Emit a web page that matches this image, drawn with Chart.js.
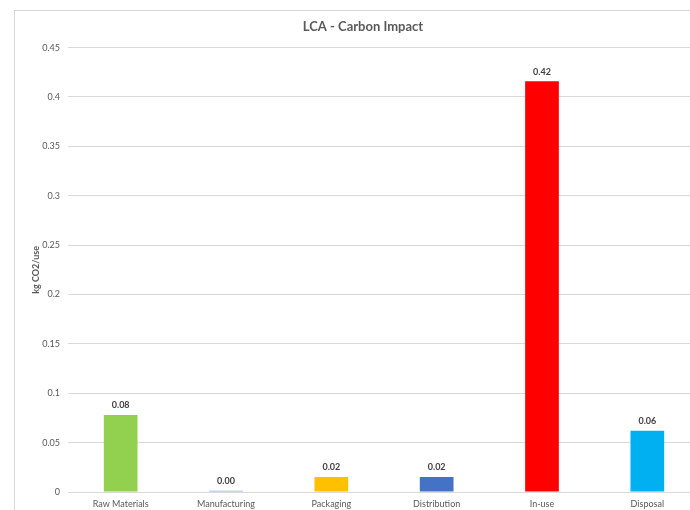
<!DOCTYPE html>
<html>
<head>
<meta charset="utf-8">
<script src="https://cdn.jsdelivr.net/npm/chart.js@4"></script>
<style>
  html, body { margin: 0; padding: 0; background: #fff; overflow: hidden; }
  #wrap { position: relative; width: 690px; height: 510px; overflow: hidden; }
  #frame { position: absolute; left: 14px; top: 10px; width: 720px; height: 540px; border: 1px solid #d9d9d9; pointer-events: none; }
  canvas { position: absolute; left: 0; top: 0; }
</style>
</head>
<body>
<div id="wrap">
  <canvas id="lcaChart" width="720" height="511"></canvas>
  <div id="frame"></div>
</div>
<script>
// Life cycle stages and their carbon impact (kg CO2 per use)
const stages = ['Raw Materials', 'Manufacturing', 'Packaging', 'Distribution', 'In-use', 'Disposal'];
const impact = [0.078, 0.0012, 0.0152, 0.0152, 0.416, 0.062];
const barColors = ['#92D050', '#8FAADC', '#FFC000', '#4472C4', '#FF0000', '#00B0F0'];
const yMax = 0.45;
const yStep = 0.05;

const textColor = '#595959';
const fontFamily = 'Lato, "Open Sans", sans-serif';

// Small inline plugin to print the value above each bar
const valueLabels = {
    id: 'valueLabels',
    afterDatasetsDraw(chart) {
        const ctx = chart.ctx;
        const meta = chart.getDatasetMeta(0);
        ctx.save();
        ctx.font = 'bold 9px ' + fontFamily;
        ctx.fillStyle = '#404040';
        ctx.textAlign = 'center';
        ctx.textBaseline = 'bottom';
        meta.data.forEach((bar, i) => {
            ctx.fillText(impact[i].toFixed(2), bar.x, bar.y - 5);
        });
        ctx.restore();
    }
};

new Chart(document.getElementById('lcaChart'), {
    type: 'bar',
    data: {
        labels: stages,
        datasets: [{
            data: impact,
            backgroundColor: barColors,
            borderWidth: 0,
            barPercentage: 1,
            categoryPercentage: 0.32
        }]
    },
    options: {
        responsive: false,
        animation: false,
        // left padding keeps the title centred where the original has it
        layout: { padding: { left: 26, right: 20, top: 0, bottom: 0 } },
        plugins: {
            legend: { display: false },
            tooltip: { enabled: false },
            title: {
                display: true,
                text: 'LCA - Carbon Impact',
                color: textColor,
                font: { family: fontFamily, size: 13, weight: 'bold', lineHeight: 1.2 },
                padding: { top: 19, bottom: 13 }
            }
        },
        scales: {
            x: {
                grid: { display: false, drawTicks: false },
                border: { display: false },
                ticks: {
                    color: textColor,
                    font: { family: fontFamily, size: 9 },
                    maxRotation: 0,
                    autoSkip: false,
                    padding: 7
                },
                afterFit(scale) { scale.height = 19; }
            },
            y: {
                min: 0,
                max: yMax,
                grid: { color: '#d9d9d9', lineWidth: 1, drawTicks: false },
                border: { display: false },
                ticks: {
                    stepSize: yStep,
                    color: textColor,
                    font: { family: fontFamily, size: 9 },
                    padding: 8,
                    callback: (v) => String(Number(v.toFixed(2)))
                },
                title: {
                    display: true,
                    text: 'kg CO2/use',
                    color: textColor,
                    font: { family: fontFamily, size: 9, weight: 'bold', lineHeight: 1.2 },
                    padding: { top: 5, bottom: 0 }
                },
                afterFit(scale) { scale.width = 42; }
            }
        }
    },
    plugins: [valueLabels]
});
</script>
</body>
</html>
